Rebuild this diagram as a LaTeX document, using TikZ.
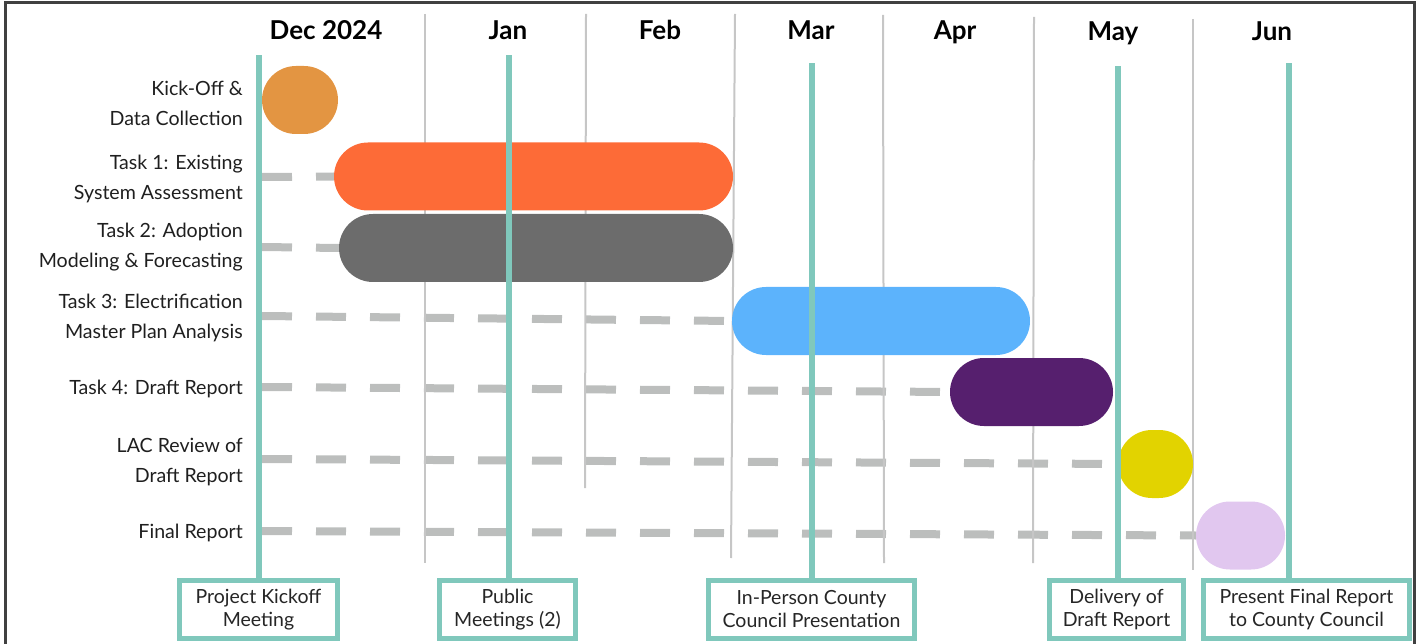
\documentclass[tikz,border=0pt]{standalone}
\usepackage{fontspec}
\setmainfont{Lato}
\definecolor{msteal}{HTML}{80C8BC}
\definecolor{gridgray}{HTML}{C6C6C6}
\definecolor{dashgray}{HTML}{BCBEBD}
\definecolor{framegray}{HTML}{404040}
\definecolor{kickorange}{HTML}{E39542}
\definecolor{existred}{HTML}{FD6B37}
\definecolor{adoptgray}{HTML}{6C6C6C}
\definecolor{planblue}{HTML}{5CB3FC}
\definecolor{draftpurple}{HTML}{561F6E}
\definecolor{lacyellow}{HTML}{E2D300}
\definecolor{finallilac}{HTML}{E1C7EF}
\pgfdeclarelayer{background}
\pgfsetlayers{background,main}

\begin{document}
\begin{tikzpicture}[x=1pt,y=-1pt,
    taskbar/.style={shape=rectangle,rounded corners=34pt,inner sep=0pt,minimum height=68pt},
    tasklabel/.style={anchor=east,align=right,inner sep=0pt,text=black!88,
                      font=\fontsize{19.6}{30}\selectfont},
    month/.style={anchor=base,inner sep=0pt,font=\fontsize{26}{30}\selectfont\bfseries},
    milestone/.style={shape=rectangle,draw=msteal,line width=5pt,fill=white,inner sep=0pt,
                      minimum height=58pt,align=center,text=black!85,
                      font=\fontsize{19.5}{23}\selectfont},
    msline/.style={draw=msteal,line width=6pt},
    gridline/.style={draw=gridgray,line width=2pt},
    todo/.style={draw=dashgray,line width=8pt,dash pattern=on 30pt off 24pt}]

      \useasboundingbox (0,0) rectangle (1419,644);
      \draw[draw=framegray,line width=3pt] (5,690) -- (5,3) -- (1414.5,3) -- (1414.5,690);

      \path node (dec) at (326,40) [month] {Dec 2024};
      \path node (jan) at (508,40) [month] {Jan};
      \path node (feb) at (660,40) [month] {Feb};
      \path node (mar) at (811,40) [month] {Mar};
      \path node (apr) at (955,40) [month] {Apr};
      \path node (may) at (1113,41) [month] {May};
      \path node (jun) at (1272,41) [month] {Jun};

      \path node (lkick) at (243,103) [tasklabel] {Kick-Off \&\\Data Collection};
      \path node (lexist) at (243,179) [tasklabel] {Task 1: Existing\\System Assessment};
      \path node (ladopt) at (243,247) [tasklabel] {Task 2: Adoption\\Modeling \& Forecasting};
      \path node (lplan) at (243,318) [tasklabel] {Task 3: Electrification\\Master Plan Analysis};
      \path node (ldraft) at (243,389) [tasklabel] {Task 4: Draft Report};
      \path node (llac) at (243,462) [tasklabel] {LAC Review of\\Draft Report};
      \path node (lfinal) at (243,533) [tasklabel] {Final Report};

      \path node (kickbar) at (300,100) [taskbar,fill=kickorange,minimum width=76pt] {};
      \path node (existbar) at (533.5,176.5) [taskbar,fill=existred,minimum width=399pt] {};
      \path node (adoptbar) at (536,248) [taskbar,fill=adoptgray,minimum width=394pt] {};
      \path node (planbar) at (881,321) [taskbar,fill=planblue,minimum width=298pt] {};
      \path node (draftbar) at (1031.5,392) [taskbar,fill=draftpurple,minimum width=163pt] {};
      \path node (lacbar) at (1155.5,464) [taskbar,fill=lacyellow,minimum width=75pt] {};
      \path node (finalbar) at (1240.5,535.5) [taskbar,fill=finallilac,minimum width=89pt] {};

      \begin{pgfonlayer}{background}
      \coordinate (existstart) at (262,177);
      \coordinate (adoptstart) at (262,247);
      \coordinate (planstart) at (262,316);
      \coordinate (draftstart) at (262,387);
      \coordinate (lacstart) at (262,459);
      \coordinate (finalstart) at (262,531);
      \draw[todo] (existstart) -- (existbar.west);
      \draw[todo] (adoptstart) -- (adoptbar.west);
      \draw[todo] (planstart) -- (planbar.west);
      \draw[todo] (draftstart) -- (draftbar.west);
      \draw[todo] (lacstart) -- (lacbar.west);
      \draw[todo] (finalstart) -- (finalbar.west);

      \draw[gridline] (425,14) -- (425,563);
      \draw[gridline] (586,14) -- (585,488);
      \draw[gridline] (735,14) -- (731,558);
      \draw[gridline] (883,15) -- (884,563);
      \draw[gridline] (1034,17) -- (1033,563);
      \draw[gridline] (1193,19) -- (1193,570);
      \end{pgfonlayer}

      \coordinate (dectop) at (259,55);
      \coordinate (jantop) at (509,55);
      \coordinate (martop) at (812,63);
      \coordinate (maytop) at (1118,66);
      \coordinate (juntop) at (1289,63);

      \path node (kickmeet) at (258.5,609.5) [milestone,minimum width=158pt]
            {Project Kickoff\\Meeting};
      \path node (publicmeet) at (507.5,609.5) [milestone,minimum width=136pt]
            {Public\\Meetings (2)};
      \path node (council) at (811.5,609) [milestone,minimum width=206pt]
            {In-Person County\\Council Presentation};
      \path node (delivery) at (1116.5,609) [milestone,minimum width=134pt]
            {Delivery of\\Draft Report};
      \path node (present) at (1306.5,609) [milestone,minimum width=206pt]
            {Present Final Report\\to County Council};

      \draw[msline] (kickmeet.north -| dectop) -- (dectop);
      \draw[msline] (publicmeet.north -| jantop) -- (jantop);
      \draw[msline] (council.north -| martop) -- (martop);
      \draw[msline] (delivery.north -| maytop) -- (maytop);
      \draw[msline] (present.north -| juntop) -- (juntop);
    \end{tikzpicture}
\end{document}
